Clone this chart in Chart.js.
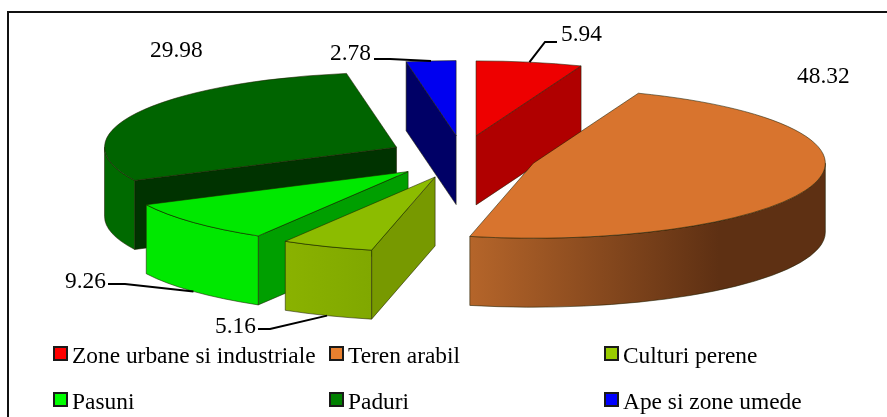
<!DOCTYPE html>
<html>
<head>
<meta charset="utf-8">
<title>Utilizarea terenului</title>
<script src="https://cdn.jsdelivr.net/npm/chart.js@4"></script>
<style>
  html, body { margin: 0; padding: 0; background: #fff; }
  canvas { display: block; }
</style>
</head>
<body>
<canvas id="landChart" width="887" height="417"></canvas>
<script>
// Land use shares
const categories = ['Zone urbane si industriale', 'Teren arabil', 'Culturi perene', 'Pasuni', 'Paduri', 'Ape si zone umede'];
const shares = [5.94, 48.32, 5.16, 9.26, 29.98, 2.78];

// Colours per slice, same order as the categories
const legendColors = ['#ff0000', '#e8802f', '#99cc00', '#00ff00', '#008000', '#0000ff'];
const topColors = ['#ee0000', '#d8742e', '#8cbc00', '#00e800', '#006400', '#0000f0'];
const cutColors = ['#b00000', '#5e3013', '#779900', '#009f00', '#003300', '#000066'];
const rimColors = [
  [[0, '#b00000'], [1, '#b00000']],
  [[0, '#b5652a'], [0.7, '#5e3013'], [1, '#5e3013']],
  [[0, '#8ab200'], [1, '#80a800']],
  [[0, '#00e800'], [1, '#00e800']],
  [[0, '#006a00'], [1, '#006a00']],
  [[0, '#000066'], [1, '#000066']]
];

// Pie geometry
const radius = 292;
const squash = 75 / 292;
const depth = 69;
const explode = 74;
const explodeTilt = 0.29;
const edgeColor = 'rgba(30, 30, 0, 0.55)';

// Where the value labels sit; elbow is the start of the leader, if the label has one
const labelSpots = [
  { x: 561, y: 41, from: [557, 42], elbow: [545, 42] },
  { x: 797, y: 83 },
  { x: 215, y: 333, from: [258, 329], elbow: [270, 329] },
  { x: 65, y: 288, from: [108, 284], elbow: [125, 284] },
  { x: 150, y: 57 },
  { x: 330, y: 60, from: [374, 59], elbow: [390, 59] }
];

// Legend grid
const legendCols = [54, 330, 605];
const legendRows = [347, 393];
const textFont = '23.4px "Liberation Serif"';

// Centre of a slice after pulling it out along its middle angle
function sliceCentre(arc) {
  const mid = (arc.startAngle + arc.endAngle) / 2;
  return {
    x: arc.x + Math.cos(mid) * explode,
    y: arc.y + Math.sin(mid) * explode * explodeTilt
  };
}

function rimPoint(c, angle) {
  return { x: c.x + Math.cos(angle) * radius, y: c.y + Math.sin(angle) * radius * squash };
}

function drawCut(ctx, c, angle, color) {
  const p = rimPoint(c, angle);
  ctx.beginPath();
  ctx.moveTo(c.x, c.y);
  ctx.lineTo(p.x, p.y);
  ctx.lineTo(p.x, p.y + depth);
  ctx.lineTo(c.x, c.y + depth);
  ctx.closePath();
  ctx.fillStyle = color;
  ctx.fill();
  ctx.stroke();
}

function drawRim(ctx, c, from, to, stops) {
  const a0 = Math.max(from, 0);
  const a1 = Math.min(to, Math.PI);
  if (a1 <= a0) return;
  const left = rimPoint(c, a1).x;
  const right = rimPoint(c, a0).x;
  const grad = ctx.createLinearGradient(left, 0, right, 0);
  stops.forEach(s => grad.addColorStop(s[0], s[1]));
  ctx.beginPath();
  ctx.ellipse(c.x, c.y, radius, radius * squash, 0, a0, a1);
  ctx.ellipse(c.x, c.y + depth, radius, radius * squash, 0, a1, a0, true);
  ctx.closePath();
  ctx.fillStyle = grad;
  ctx.fill();
  ctx.stroke();
}

// Replaces the flat pie drawing: sides first, then the arc element squashed into place
const tiltedPie = {
  id: 'tiltedPie',
  beforeDatasetDraw(chart, args) {
    const ctx = chart.ctx;
    const arcs = args.meta.data.map((arc, i) => ({ arc, i, c: sliceCentre(arc) }));
    arcs.sort((a, b) => a.c.y - b.c.y);

    arcs.forEach(({ arc, i, c }) => {
      ctx.save();
      ctx.strokeStyle = edgeColor;
      ctx.lineWidth = 1;
      if (Math.cos(arc.startAngle) < 0) drawCut(ctx, c, arc.startAngle, cutColors[i]);
      if (Math.cos(arc.endAngle) > 0) drawCut(ctx, c, arc.endAngle, cutColors[i]);
      drawRim(ctx, c, arc.startAngle, arc.endAngle, rimColors[i]);

      ctx.save();
      ctx.translate(c.x, c.y);
      ctx.scale(1, squash);
      ctx.translate(-arc.x, -arc.y);
      arc.draw(ctx);
      ctx.restore();

      const p = rimPoint(c, arc.startAngle);
      ctx.beginPath();
      ctx.moveTo(c.x, c.y);
      ctx.lineTo(p.x, p.y);
      ctx.ellipse(c.x, c.y, radius, radius * squash, 0, arc.startAngle, arc.endAngle);
      ctx.closePath();
      ctx.stroke();
      ctx.restore();
    });
    return false;
  },
  afterDraw(chart) {
    const ctx = chart.ctx;
    const meta = chart.getDatasetMeta(0);
    ctx.save();

    // Frame, open on the right and at the bottom
    ctx.strokeStyle = '#111';
    ctx.lineWidth = 2;
    ctx.beginPath();
    ctx.moveTo(8, 417);
    ctx.lineTo(8, 12);
    ctx.lineTo(887, 12);
    ctx.stroke();

    // Value labels and their leaders
    ctx.font = textFont;
    ctx.fillStyle = '#000';
    ctx.textAlign = 'left';
    ctx.textBaseline = 'alphabetic';
    meta.data.forEach((arc, i) => {
      const spot = labelSpots[i];
      ctx.fillText(String(shares[i]), spot.x, spot.y);
      if (!spot.from) return;
      const mid = (arc.startAngle + arc.endAngle) / 2;
      const end = rimPoint(sliceCentre(arc), mid);
      if (Math.sin(mid) > 0) end.y += depth;
      ctx.strokeStyle = '#000';
      ctx.lineWidth = 2;
      ctx.beginPath();
      ctx.moveTo(spot.from[0], spot.from[1]);
      ctx.lineTo(spot.elbow[0], spot.elbow[1]);
      ctx.lineTo(end.x, end.y);
      ctx.stroke();
    });

    // Legend, three columns by two rows
    categories.forEach((name, i) => {
      const x = legendCols[i % 3];
      const y = legendRows[Math.floor(i / 3)];
      ctx.fillStyle = legendColors[i];
      ctx.strokeStyle = '#1a1a1a';
      ctx.lineWidth = 2;
      ctx.fillRect(x, y, 13, 13);
      ctx.strokeRect(x, y, 13, 13);
      ctx.fillStyle = '#000';
      ctx.fillText(name, x + 18, y + 16);
    });
    ctx.restore();
  }
};

new Chart(document.getElementById('landChart'), {
  type: 'pie',
  data: {
    labels: categories,
    datasets: [{
      data: shares,
      backgroundColor: topColors,
      borderWidth: 0,
      radius: radius
    }]
  },
  options: {
    responsive: false,
    animation: false,
    layout: { padding: { left: 38, right: 0, top: 0, bottom: 103 } },
    plugins: {
      legend: { display: false },
      tooltip: { enabled: false }
    }
  },
  plugins: [tiltedPie]
});
</script>
</body>
</html>
